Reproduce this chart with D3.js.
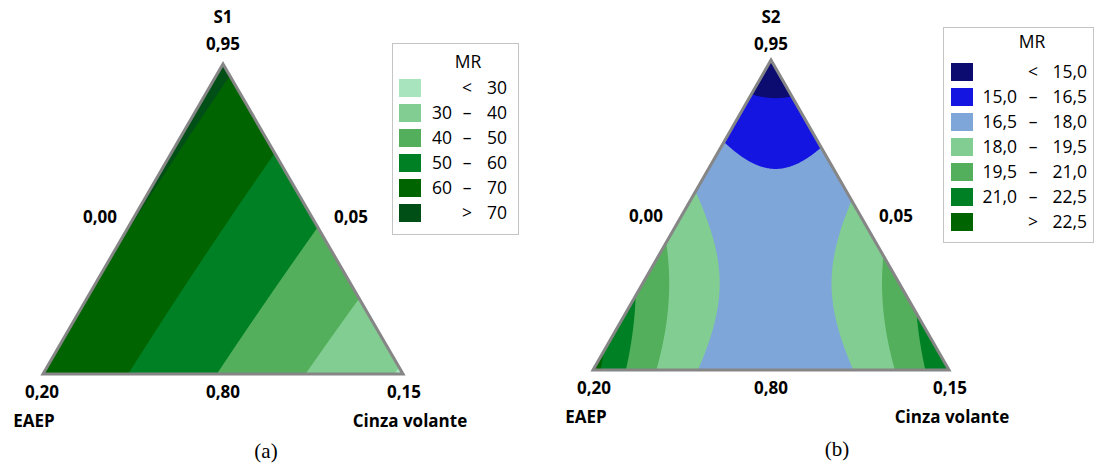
<!DOCTYPE html>
<html>
<head>
<meta charset="utf-8">
<script src="https://cdn.jsdelivr.net/npm/d3@7"></script>
<style>
  body { margin: 0; background: #fff; }
  text { font-family: "Open Sans", sans-serif; }
</style>
</head>
<body>
<div class="ternary"></div>
<script>
// vertex order everywhere: top, left, right
var vertexNamesA = ["S1", "EAEP", "Cinza volante"]
var vertexNamesB = ["S2", "EAEP", "Cinza volante"]
var vertexTicks = ["0,95", "0,20", "0,15"]
// side opposite top, opposite left, opposite right
var sideTicks = ["0,80", "0,05", "0,00"]

// mixture model terms: a, b, c, ab, ac, bc (pseudo components)
var coefS1 = [71.5, 69.6, 29.0, -1.2, 3.5, 0]
var coefS2 = [13.9, 23.0, 22.4, 1.0, 1.0, -23.2]

var levelsS1 = [30, 40, 50, 60, 70]
var levelsS2 = [15, 16.5, 18, 19.5, 21, 22.5]

var legendS1 = [["", "<", "30"], ["30", "–", "40"], ["40", "–", "50"], ["50", "–", "60"], ["60", "–", "70"], ["", ">", "70"]]
var legendS2 = [["", "<", "15,0"], ["15,0", "–", "16,5"], ["16,5", "–", "18,0"], ["18,0", "–", "19,5"],
  ["19,5", "–", "21,0"], ["21,0", "–", "22,5"], ["", ">", "22,5"]]

var greensS1 = ["#a8e5bf", "#82cd91", "#53af5b", "#008024", "#006400", "#004f17"]
var paletteS2 = ["#0b0b70", "#1515e2", "#7fa6d8", "#82cd91", "#53af5b", "#008024", "#006400"]

document.addEventListener("DOMContentLoaded", runD3)

function runD3() {
  var width = 1096,
    height = 465;

  var svg = d3.select(".ternary").append("svg")
    .attr("width", width)
    .attr("height", height)

  var panels = [
    {
      id: "a", names: vertexNamesA, coef: coefS1, levels: levelsS1, colors: greensS1, legend: legendS1,
      top: 64, base: 374, left: 43, right: 403,
      box: {x: 392, y: 43, w: 126, h: 191, titleX: 468, title: 68, row0: 79, sw: 399, lo: 452, mid: 467, hi: 507},
      labels: {name: 23, vtop: 50, side: 223, sideL: 100, sideR: 351, bot: 398, botL: 42, botR: 404,
        nameY: 427, nameL: 34, nameR: 410, cap: 266, capY: 458}
    },
    {
      id: "b", names: vertexNamesB, coef: coefS2, levels: levelsS2, colors: paletteS2, legend: legendS2,
      top: 60, base: 370, left: 593, right: 949,
      box: {x: 943, y: 27, w: 150, h: 215, titleX: 1032, title: 48, row0: 63, sw: 951, lo: 1017, mid: 1033, hi: 1087},
      labels: {name: 23, vtop: 50, side: 222, sideL: 646, sideR: 896, bot: 394, botL: 594, botR: 950,
        nameY: 423, nameL: 586, nameR: 952, cap: 837, capY: 456}
    }
  ]

  panels.forEach(function (p) { drawPanel(svg, p) })
}

function drawPanel(svg, p) {
  var g = svg.append("g")
  var yScale = d3.scaleLinear().domain([0, 1]).range([p.base, p.top]),
    xScale = d3.scaleLinear().domain([0, 1]).range([p.left, p.right]),
    color = d3.scaleThreshold().domain(p.levels).range(p.colors)

  function model(a, b, c) {
    var k = p.coef
    return k[0] * a + k[1] * b + k[2] * c + k[3] * a * b + k[4] * a * c + k[5] * b * c
  }

  // pixel position of a mixture (a top, b left, c right)
  function project(a, b, c) {
    return [xScale(c + a / 2), yScale(a)]
  }

  var corners = [project(1, 0, 0), project(0, 1, 0), project(0, 0, 1)]

  // sample the model on a pixel grid around the triangle
  var x0 = Math.floor(p.left) - 3,
    y0 = Math.floor(p.top) - 3,
    nx = Math.ceil(p.right - p.left) + 6,
    ny = Math.ceil(p.base - p.top) + 6,
    values = new Array(nx * ny)
  for (var j = 0; j < ny; j++) {
    for (var i = 0; i < nx; i++) {
      var a = yScale.invert(y0 + j + 0.5),
        c = xScale.invert(x0 + i + 0.5) - a / 2,
        b = 1 - a - c
      values[j * nx + i] = model(a, b, c)
    }
  }

  var contours = d3.contours().size([nx, ny]).thresholds(p.levels)(values)
  var path = d3.geoPath(d3.geoIdentity().translate([x0, y0]))

  g.append("clipPath").attr("id", "clip-" + p.id)
    .append("polygon").attr("points", corners.join(" "))

  var plot = g.append("g").attr("clip-path", "url(#clip-" + p.id + ")")
  plot.append("polygon")
    .attr("points", corners.join(" "))
    .attr("fill", p.colors[0])
  plot.selectAll("path.band")
    .data(contours)
    .enter().append("path")
    .attr("class", "band")
    .attr("d", path)
    .attr("fill", function (d) { return color(d.value) })

  g.append("polygon")
    .attr("points", corners.join(" "))
    .attr("fill", "none")
    .attr("stroke", "#868686")
    .attr("stroke-width", 3)

  // vertex and side labels
  var L = p.labels
  var bold = g.append("g")
    .attr("font-weight", "bold")
    .attr("font-size", "17px")
    .attr("text-anchor", "middle")
    .attr("fill", "#000")
  bold.append("text").attr("x", corners[0][0]).attr("y", L.name).text(p.names[0])
  bold.append("text").attr("x", corners[0][0]).attr("y", L.vtop).text(vertexTicks[0])
  bold.append("text").attr("x", L.sideL).attr("y", L.side).text(sideTicks[2])
  bold.append("text").attr("x", L.sideR).attr("y", L.side).text(sideTicks[1])
  bold.append("text").attr("x", L.botL).attr("y", L.bot).text(vertexTicks[1])
  bold.append("text").attr("x", (corners[1][0] + corners[2][0]) / 2).attr("y", L.bot).text(sideTicks[0])
  bold.append("text").attr("x", L.botR).attr("y", L.bot).text(vertexTicks[2])
  bold.append("text").attr("x", L.nameL).attr("y", L.nameY).text(p.names[1])
  bold.append("text").attr("x", L.nameR).attr("y", L.nameY).text(p.names[2])

  g.append("text")
    .attr("x", L.cap).attr("y", L.capY)
    .attr("text-anchor", "middle")
    .style("font-family", "'Liberation Serif', serif")
    .attr("font-size", "21px")
    .text("(" + p.id + ")")

  // legend
  var B = p.box
  var leg = g.append("g").attr("font-size", "17.5px").attr("fill", "#000")
  leg.append("rect")
    .attr("x", B.x + 0.5).attr("y", B.y + 0.5)
    .attr("width", B.w).attr("height", B.h)
    .attr("fill", "#fff")
    .attr("stroke", "#c4c4c4")
  leg.append("text")
    .attr("x", B.titleX).attr("y", B.title)
    .attr("text-anchor", "middle")
    .text("MR")

  var rows = leg.selectAll("g.row")
    .data(p.legend)
    .enter().append("g")
    .attr("class", "row")
    .attr("transform", function (d, i) { return "translate(0," + (B.row0 + i * 25) + ")" })
  rows.append("rect")
    .attr("x", B.sw).attr("width", 22).attr("height", 18)
    .attr("fill", function (d, i) { return p.colors[i] })
  rows.append("text").attr("x", B.lo).attr("y", 15).attr("text-anchor", "end").text(function (d) { return d[0] })
  rows.append("text").attr("x", B.mid).attr("y", 15).attr("text-anchor", "middle").text(function (d) { return d[1] })
  rows.append("text").attr("x", B.hi).attr("y", 15).attr("text-anchor", "end").text(function (d) { return d[2] })
}
</script>
</body>
</html>
